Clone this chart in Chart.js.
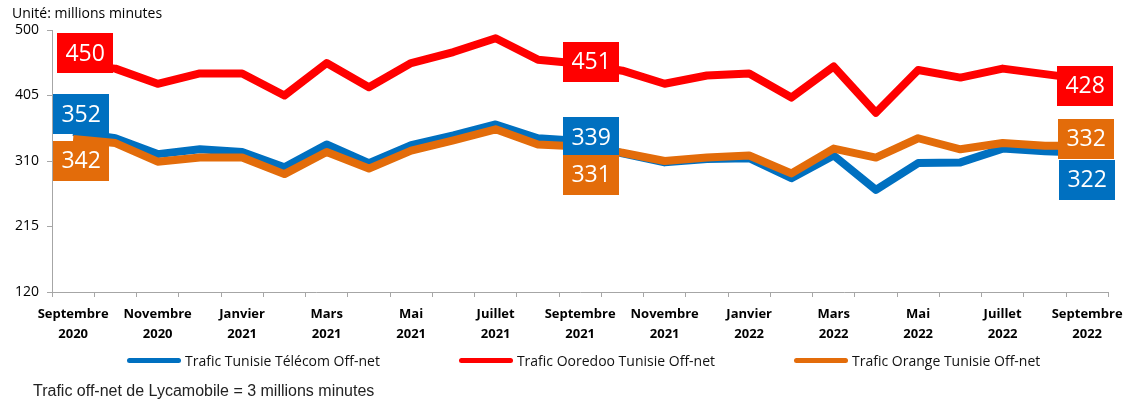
<!DOCTYPE html>
<html>
<head>
<meta charset="utf-8">
<script src="https://cdn.jsdelivr.net/npm/chart.js@4.4.1/dist/chart.umd.min.js"></script>
<style>
  body { margin: 0; background: #fff; }
  #box { position: relative; width: 1130px; height: 402px; overflow: hidden; }
  #box canvas { position: absolute; left: 0; top: 0; }
  .unite { position: absolute; left: 12px; top: 3px; font: 14px "Open Sans", sans-serif; color: #000; }
  .legende { position: absolute; left: 127px; top: 351px; display: flex; gap: 79px; font: 14px "Open Sans", sans-serif; color: #111; }
  .legende span { display: flex; align-items: center; white-space: nowrap; }
  .legende i { display: inline-block; width: 54px; height: 5px; border-radius: 3px; margin-right: 4px; }
  .note { position: absolute; left: 33px; top: 382px; font: 16px "Liberation Sans", Arial, sans-serif; color: #222; }
</style>
</head>
<body>
<div id="box">
  <canvas id="trafic" width="1130" height="402"></canvas>
  <div class="unite">Unité: millions minutes</div>
  <div class="legende" id="legende"></div>
  <div class="note">Trafic off-net de Lycamobile = 3 millions minutes</div>
</div>
<script>
// mois de septembre 2020 a septembre 2022
const mois = ['Septembre', 'Octobre', 'Novembre', 'Décembre', 'Janvier', 'Février', 'Mars', 'Avril', 'Mai', 'Juin', 'Juillet', 'Août',
  'Septembre', 'Octobre', 'Novembre', 'Décembre', 'Janvier', 'Février', 'Mars', 'Avril', 'Mai', 'Juin', 'Juillet', 'Août', 'Septembre'];
const annees = ['2020', '2020', '2020', '2020', '2021', '2021', '2021', '2021', '2021', '2021', '2021', '2021',
  '2021', '2021', '2021', '2021', '2022', '2022', '2022', '2022', '2022', '2022', '2022', '2022', '2022'];

const tunisieTelecom = [352, 343, 320, 327, 323, 301, 334, 307, 333, 347, 363, 343, 339, 321, 308, 313, 314, 285, 318, 268, 307, 308, 328, 324, 322];
const ooredoo = [450, 444, 422, 437, 437, 405, 452, 417, 452, 468, 488, 457, 451, 441, 422, 434, 437, 402, 447, 380, 442, 431, 444, 436, 428];
const orange = [342, 336, 309, 315, 315, 291, 323, 299, 325, 340, 356, 334, 331, 322, 310, 315, 318, 292, 328, 315, 343, 327, 336, 332, 332];

const yTicks = [120, 215, 310, 405, 500];
const labelIndex = [0, 12, 24];

const bleu = '#0070C0', rouge = '#FF0000', orangeCol = '#E36C0A';

// decalage des etiquettes (centre de la boite par rapport au point)
const decalages = {
  0: [[8, -18], [11, -4], [0, 27]],
  1: [[12, -11], [11, -2], [-2, 6]],
  2: [[8, 22], [11, 28], [-1, -7]]
};

const etiquettes = {
  id: 'etiquettes',
  afterDatasetsDraw(chart) {
    const ctx = chart.ctx;
    [1, 0, 2].forEach(di => {
      const ds = chart.data.datasets[di];
      const meta = chart.getDatasetMeta(di);
      labelIndex.forEach((idx, k) => {
        const pt = meta.data[idx];
        const d = decalages[di][k];
        const cx = pt.x + d[0], cy = pt.y + d[1];
        ctx.save();
        ctx.fillStyle = ds.borderColor;
        ctx.fillRect(Math.round(cx - 28), Math.round(cy - 20), 56, 40);
        ctx.fillStyle = '#fff';
        ctx.font = '23px "Open Sans", sans-serif';
        ctx.textAlign = 'center';
        ctx.textBaseline = 'middle';
        ctx.fillText(String(ds.data[idx]), cx, cy + 1);
        ctx.restore();
      });
    });
  }
};

const datasets = [
  { label: 'Trafic Tunisie Télécom Off-net', data: tunisieTelecom, borderColor: bleu, order: 1 },
  { label: 'Trafic Ooredoo Tunisie Off-net', data: ooredoo, borderColor: rouge, order: 2 },
  { label: 'Trafic Orange Tunisie Off-net', data: orange, borderColor: orangeCol, order: 0 }
].map(d => Object.assign(d, { borderWidth: 8, pointRadius: 0, tension: 0, fill: false, borderJoinStyle: 'round' }));

new Chart(document.getElementById('trafic'), {
  type: 'line',
  data: { labels: mois, datasets: datasets },
  plugins: [etiquettes],
  options: {
    responsive: false,
    animation: false,
    layout: { padding: { top: 30, right: 18, left: 0, bottom: 0 } },
    plugins: { legend: { display: false }, tooltip: { enabled: false } },
    scales: {
      x: {
        type: 'category',
        offset: true,
        afterFit: s => { s.height = 110; },
        grid: { offset: true, drawOnChartArea: false, tickLength: 5, color: '#a6a6a6' },
        border: { color: '#a6a6a6', width: 1 },
        ticks: {
          autoSkip: false, maxRotation: 0, padding: 7, color: '#000',
          font: { family: '"Open Sans", sans-serif', size: 13, weight: 'bold', lineHeight: 1.55 },
          callback: (v, i) => i % 2 === 0 ? [mois[i], annees[i]] : ''
        }
      },
      y: {
        min: yTicks[0], max: yTicks[yTicks.length - 1],
        afterFit: s => { s.width = 52; },
        afterBuildTicks: s => { s.ticks = yTicks.map(v => ({ value: v })); },
        grid: { drawOnChartArea: false, tickLength: 5, color: '#a6a6a6' },
        border: { color: '#a6a6a6', width: 1 },
        ticks: { padding: 8, color: '#000', font: { family: '"Open Sans", sans-serif', size: 14 } }
      }
    }
  }
});

// legende
const leg = document.getElementById('legende');
datasets.forEach(d => {
  const s = document.createElement('span');
  s.innerHTML = '<i style="background:' + d.borderColor + '"></i>' + d.label;
  leg.appendChild(s);
});
</script>
</body>
</html>
